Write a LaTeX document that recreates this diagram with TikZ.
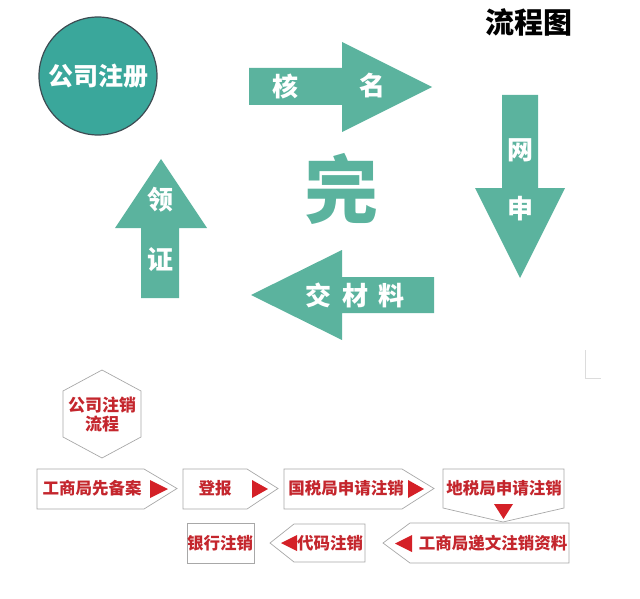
\documentclass[tikz,border=0pt]{standalone}
\usepackage{fontspec}
\usepackage{tikz}
\usetikzlibrary{shapes.geometric}
\newfontfamily\cjk{Noto Sans CJK SC}
\definecolor{flteal}  {HTML}{5BB39E}
\definecolor{flcircle}{HTML}{3AA79B}
\definecolor{flring}  {HTML}{3D4B52}
\definecolor{flred}   {HTML}{C4262D}
\definecolor{fltri}   {HTML}{D42027}
\definecolor{flrule}  {HTML}{A8A8A8}
\definecolor{flmark}  {HTML}{DCDCDC}
\tikzset{
  flarrow/.style={fill=flteal, draw=none},
  flbig/.style={font=\cjk\bfseries\fontsize{26}{26}\selectfont, text=white, inner sep=0pt},
  flbox/.style={draw=flrule, line width=0.7pt, fill=white, line join=miter},
  flstep/.style={font=\cjk\bfseries\fontsize{16.5}{19}\selectfont, text=flred, inner sep=0pt},
  fltip/.style={fill=fltri, draw=none},
}

\begin{document}
\begin{tikzpicture}[x=1pt,y=-1pt]
  \useasboundingbox (0,0) rectangle (640,599);
  % upper cycle
  \node[circle, fill=flcircle, draw=flring, line width=1.2pt, minimum size=118pt,
        flbig, font=\cjk\bfseries\fontsize{25}{25}\selectfont] (reg) at (98,76) {公司注册};
  \node[font=\cjk\bfseries\fontsize{29}{29}\selectfont, inner sep=0pt] (title) at (529,22) {流程图};
  \node[font=\cjk\bfseries\fontsize{74}{74}\selectfont, text=flteal, inner sep=0pt] (done) at (341,189) {完};
  \fill[flarrow] (249,68) -- (342,68) -- (342,42) -- (432,87) -- (342,132) -- (342,105) -- (249,105) -- cycle;
  \fill[flarrow] (502,95) -- (538,95) -- (538,188) -- (565,188) -- (520,278) -- (475,188) -- (502,188) -- cycle;
  \fill[flarrow] (434,277) -- (342,277) -- (342,250) -- (251,295) -- (342,340) -- (342,313) -- (434,313) -- cycle;
  \fill[flarrow] (141,298) -- (141,228) -- (115,228) -- (161,159) -- (207,228) -- (179,228) -- (179,298) -- cycle;
  \node[flbig] (he)   at (285,86)  {核};
  \node[flbig] (ming) at (372,86)  {名};
  \node[flbig] (wang) at (520,150) {网};
  \node[flbig] (shen) at (520,209) {申};
  \node[flbig] (jiao) at (355,295) {交\hspace{11pt}材\hspace{11pt}料};
  \node[flbig] (ling) at (160,200) {领};
  \node[flbig] (zheng) at (160,260) {证};
  % lower steps
  \draw[flmark, line width=0.8pt] (585,350) -- (585,378) -- (601,378);
  \draw[flbox] (102,370) -- (141,391) -- (141,437) -- (102,458) -- (63,437) -- (63,391) -- cycle;
  \node[flstep, align=center, font=\cjk\bfseries\fontsize{17}{19}\selectfont] (cancel) at (102,414) {公司注销\\流程};
  \draw[flbox] (37,469) -- (144,469) -- (177,488.5) -- (144,509) -- (37,509) -- cycle;
  \draw[flbox] (183,469) -- (247,469) -- (278,488.5) -- (247,509) -- (183,509) -- cycle;
  \draw[flbox] (284,469) -- (402,469) -- (434,488.5) -- (402,509) -- (284,509) -- cycle;
  \draw[flbox] (443,469) -- (564,469) -- (564,508) -- (503,522) -- (443,508) -- cycle;
  \draw[flbox] (383,543) -- (410,523) -- (569,523) -- (569,563) -- (410,563) -- cycle;
  \draw[flbox] (270,543) -- (294,524) -- (365,524) -- (365,562) -- (294,562) -- cycle;
  \draw[flbox] (187,523) -- (254,523) -- (254,563) -- (187,563) -- cycle;
  \node[flstep] (gsba) at (92,488)  {工商局先备案};
  \node[flstep] (dengbao) at (215,488) {登报};
  \node[flstep] (guoshui) at (346,488) {国税局申请注销};
  \node[flstep] (dishui) at (504,488) {地税局申请注销};
  \node[flstep] (gsdj) at (493,543) {工商局递文注销资料};
  \node[flstep] (daima) at (330,543) {代码注销};
  \node[flstep] (yinhang) at (220,543) {银行注销};
  \fill[fltip] (150,480) -- (168,489) -- (150,498) -- cycle;
  \fill[fltip] (252,480) -- (268,489) -- (252,498) -- cycle;
  \fill[fltip] (408,480) -- (424,489) -- (408,498) -- cycle;
  \fill[fltip] (494,504) -- (513,504) -- (503.5,519) -- cycle;
  \fill[fltip] (412,535) -- (412,552) -- (395,543.5) -- cycle;
  \fill[fltip] (297,535) -- (297,551) -- (281,543) -- cycle;
\end{tikzpicture}
\end{document}
